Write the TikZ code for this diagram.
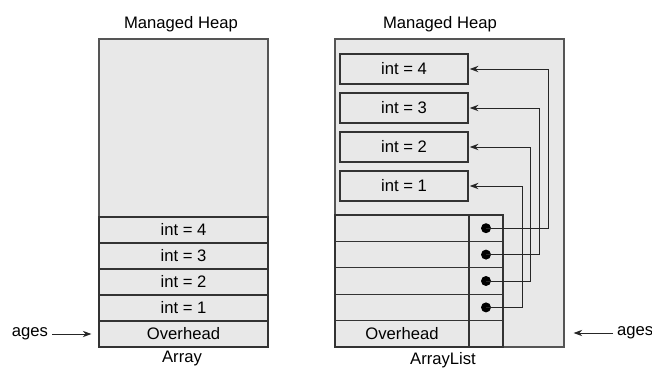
\documentclass[tikz,border=0pt]{standalone}
\usepackage{fontspec}
\setmainfont{Liberation Sans}
\usetikzlibrary{arrows.meta}

\definecolor{heapfill}{HTML}{E8E8E8}
\definecolor{heapline}{HTML}{555555}
\definecolor{cellline}{HTML}{333333}

\tikzstyle{heap} = [draw=heapline, fill=heapfill, line width=1pt, inner sep=0pt]
\tikzstyle{cell} = [draw=cellline, fill=heapfill, line width=1pt, inner sep=0pt, minimum width=5.07cm, minimum height=0.78cm]
\tikzstyle{item} = [cell, minimum width=3.84cm, minimum height=0.9cm]
\tikzstyle{slot} = [cell, minimum width=4.02cm, minimum height=0.792cm]
\tikzstyle{ptrslot} = [cell, minimum width=1.02cm, minimum height=0.792cm]
\tikzstyle{dot} = [circle, fill=black, inner sep=0pt, minimum size=0.3cm]
\tikzstyle{ptr} = [draw=black!85, line width=0.8pt, -{Stealth[length=0.26cm,width=0.19cm]}]

\begin{document}
\begin{tikzpicture}[x=0.03cm, y=-0.03cm, font=\fontsize{14.2}{17}\selectfont]
	\useasboundingbox (0,0) rectangle (652,371);

	% Array
	\node (titleA) at (181,24) {Managed Heap};
	\node[heap, minimum width=5.07cm, minimum height=9.24cm] (heapA) at (183.5,193) {};
	\node[cell] (a4) at (183.5,230) {int = 4};
	\node[cell] (a3) at (183.5,256) {int = 3};
	\node[cell] (a2) at (183.5,282) {int = 2};
	\node[cell] (a1) at (183.5,308) {int = 1};
	\node[cell] (ahead) at (183.5,334) {Overhead};
	\node (capA) at (182,359) {Array};
	\node (agesA) at (30,334) {ages};
	\draw[ptr, shorten >=0.21cm] (agesA) -- (ahead);

	% ArrayList
	\node (titleB) at (440,24) {Managed Heap};
	\node[heap, minimum width=6.87cm, minimum height=9.24cm] (heapB) at (449.5,193) {};
	\node[item] (b4) at (404,69) {int = 4};
	\node[item] (b3) at (404,108) {int = 3};
	\node[item] (b2) at (404,147) {int = 2};
	\node[item] (b1) at (404,186) {int = 1};

	\node[slot] (l4) at (402,228.2) {};
	\node[slot] (l3) at (402,254.6) {};
	\node[slot] (l2) at (402,281) {};
	\node[slot] (l1) at (402,307.4) {};
	\node[slot] (lhead) at (402,333.8) {Overhead};
	\node[ptrslot] (p4) at (486,228.2) {};
	\node[ptrslot] (p3) at (486,254.6) {};
	\node[ptrslot] (p2) at (486,281) {};
	\node[ptrslot] (p1) at (486,307.4) {};
	\node[ptrslot] (p0) at (486,333.8) {};

	\node[dot] (d4) at (p4) {};
	\node[dot] (d3) at (p3) {};
	\node[dot] (d2) at (p2) {};
	\node[dot] (d1) at (p1) {};

	\coordinate (c4) at (548,69);
	\coordinate (c3) at (539,108);
	\coordinate (c2) at (530,147);
	\coordinate (c1) at (522,186);

	\draw[ptr, shorten >=1pt] (d4.center) -| (c4) -- (b4.east);
	\draw[ptr, shorten >=1pt] (d3.center) -| (c3) -- (b3.east);
	\draw[ptr, shorten >=1pt] (d2.center) -| (c2) -- (b2.east);
	\draw[ptr, shorten >=1pt] (d1.center) -| (c1) -- (b1.east);

	\node (capB) at (443,360) {ArrayList};
	\node[anchor=west] (agesB) at (613,333) {ages};
	\draw[ptr, shorten >=0.27cm] (agesB.west) -- (agesB.west -| heapB.east);
\end{tikzpicture}
\end{document}
